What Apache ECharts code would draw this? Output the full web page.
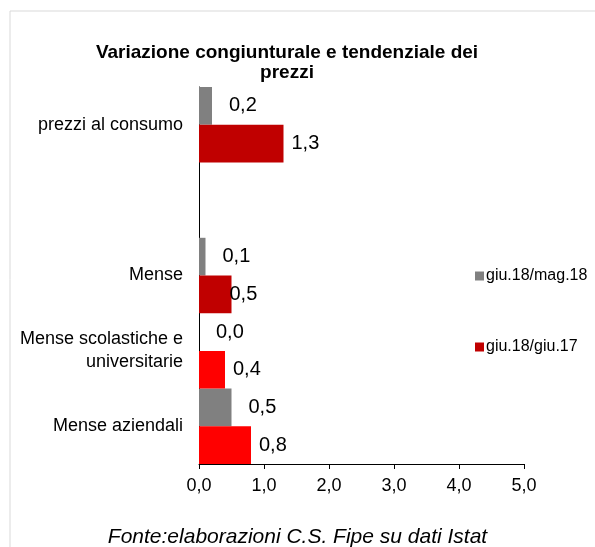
<!DOCTYPE html>
<html>
<head>
<meta charset="utf-8">
<script src="https://cdn.jsdelivr.net/npm/echarts@6/dist/echarts.min.js"></script>
<style>
  html,body{margin:0;padding:0;background:#fff;}
  #chart{width:595px;height:547px;}
</style>
</head>
<body>
<div id="chart"></div>
<script>
// categorie (dall'alto verso il basso), la seconda e' vuota
var categorie = ['prezzi al consumo', '', 'Mense', 'Mense scolastiche e\nuniversitarie', 'Mense aziendali'];
var congiunturale = [0.2, null, 0.1, 0.0, 0.5];   // giu.18/mag.18
var tendenziale = [1.3, null, 0.5, 0.4, 0.8];     // giu.18/giu.17
var coloriTend = ['#C00000', '#C00000', '#C00000', '#FF0000', '#FF0000'];

var chart = echarts.init(document.getElementById('chart'));

function fmt(v){
  return v.toFixed(1).replace('.', ',');
}

var option = {
  animation: false,
  textStyle: { fontFamily: 'Liberation Sans, Arial, sans-serif' },
  graphic: [{
    type: 'rect',
    shape: { x: 10, y: 11, width: 600, height: 560 },
    style: { fill: 'none', stroke: '#d9d9d9', lineWidth: 1 },
    silent: true
  }, {
    type: 'text',
    left: 'center',
    top: 527,
    style: {
      text: 'Fonte:elaborazioni C.S. Fipe su dati Istat',
      font: 'italic 21px "Liberation Sans", Arial, sans-serif',
      fill: '#000'
    }
  }],
  title: {
    text: 'Variazione congiunturale e tendenziale dei\nprezzi',
    left: 282,
    textAlign: 'center',
    top: 38,
    textStyle: { fontSize: 19, fontWeight: 'bold', color: '#000', lineHeight: 20 }
  },
  legend: {
    orient: 'vertical',
    left: 470,
    top: 263,
    itemGap: 55,
    itemWidth: 9,
    itemHeight: 9,
    icon: 'rect',
    textStyle: { fontSize: 16, color: '#000', padding: [0, 0, 0, -3] },
    data: [
      { name: 'giu.18/mag.18', itemStyle: { color: '#808080' } },
      { name: 'giu.18/giu.17', itemStyle: { color: '#C00000' } }
    ]
  },
  grid: { left: 199, right: 71, top: 87, bottom: 83 },
  xAxis: {
    type: 'value',
    min: 0,
    max: 5,
    interval: 1,
    axisLine: { show: true, lineStyle: { color: '#000' } },
    axisTick: { show: true, length: 5, lineStyle: { color: '#000' } },
    splitLine: { show: false },
    axisLabel: {
      fontSize: 18, color: '#000', margin: 13,
      formatter: function (v) { return fmt(v); }
    }
  },
  yAxis: {
    type: 'category',
    inverse: true,
    data: categorie,
    axisLine: { show: true, lineStyle: { color: '#000' } },
    axisTick: { show: false },
    axisLabel: { fontSize: 18, color: '#000', margin: 16, align: 'right', lineHeight: 23 }
  },
  series: [{
    name: 'giu.18/mag.18',
    type: 'bar',
    data: congiunturale,
    barGap: '0%',
    barCategoryGap: '0%',
    itemStyle: { color: '#808080' },
    label: {
      show: true,
      position: 'right',
      distance: 17,
      fontSize: 20,
      color: '#000',
      formatter: function (p) { return fmt(p.value); }
    }
  }, {
    name: 'giu.18/giu.17',
    type: 'bar',
    data: tendenziale.map(function (v, i) {
      var item = { value: v, itemStyle: { color: coloriTend[i] } };
      if (i === 2) item.label = { distance: -2 };
      return item;
    }),
    barGap: '0%',
    barCategoryGap: '0%',
    label: {
      show: true,
      position: 'right',
      distance: 8,
      fontSize: 20,
      color: '#000',
      formatter: function (p) { return fmt(p.value); }
    }
  }]
};

chart.setOption(option);
</script>
</body>
</html>
